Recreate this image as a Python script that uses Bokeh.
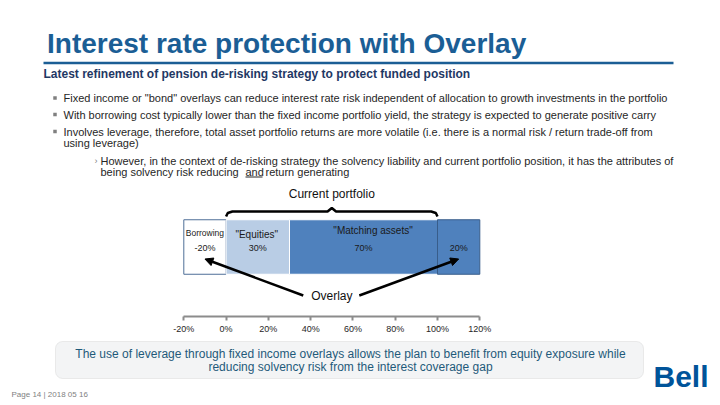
from bokeh.plotting import figure
from bokeh.layouts import column
from bokeh.models import Range1d, LinearAxis, FixedTicker, Arrow, NormalHead, BoxAnnotation
from bokeh.core.properties import value
from bokeh.embed import file_html
from bokeh.resources import INLINE

# ---------------- data ----------------
title = "Interest rate protection with Overlay"
subtitle = "Latest refinement of pension de-risking strategy to protect funded position"
bullets = [
    "Fixed income or \"bond\" overlays can reduce interest rate risk independent of allocation to growth investments in the portfolio",
    "With borrowing cost typically lower than the fixed income portfolio yield, the strategy is expected to generate positive carry",
    "Involves leverage, therefore, total asset portfolio returns are more volatile (i.e. there is a normal risk / return trade-off from",
]
bullet3_cont = "using leverage)"
sub_bullet = "However, in the context of de-risking strategy the solvency liability and current portfolio position, it has the attributes of"
sub_bullet_cont = ["being solvency risk reducing", "and", "return generating"]

segments = ["Borrowing", "Equities", "Matching assets", "Overlay"]
seg_labels = ["Borrowing", "\"Equities\"", "\"Matching assets\"", ""]
seg_values = [-20, 30, 70, 20]
seg_fill = ["#ffffff", "#b9cde5", "#4f81bd", "#4f81bd"]
seg_line = ["#4f6f98", "#ffffff", "#ffffff", "#385d8a"]

tick_values = [-20, 0, 20, 40, 60, 80, 100, 120]
tick_labels = ["-20%", "0%", "20%", "40%", "60%", "80%", "100%", "120%"]

bracket_label = "Current portfolio"
overlay_label = "Overlay"
callout = [
    "The use of leverage through fixed income overlays allows the plan to benefit from equity exposure while",
    "reducing solvency risk from the interest coverage gap",
]
footer = "Page 14  |  2018 05 16"
logo = "Bell"

# ---------------- derived stacking ----------------
lefts, rights = [], []
pos = 0
for v in seg_values:
    if v < 0:
        lefts.append(v); rights.append(0)
    else:
        lefts.append(pos); rights.append(pos + v); pos += v
centers = [(a + b) / 2 for a, b in zip(lefts, rights)]
val_labels = [f"{v}%" for v in seg_values]

FONT = value("Liberation Sans")
BLUE = "#1b5e95"
W = 712

# percent scale placed on slide: -20% at x=183.3, 120% at x=479.3 (slide px)
px_lo, px_hi = 183.3, 479.3
scale = (px_hi - px_lo) / (tick_values[-1] - tick_values[0])
pct_start = tick_values[0] - px_lo / scale
pct_end = pct_start + W / scale

# ---------------- top figure (slide px coords, y downward) ----------------
p = figure(frame_width=W, frame_height=316, x_range=Range1d(0, W), y_range=Range1d(316, 0),
           x_axis_type=None, y_axis_type=None, toolbar_location=None, output_backend="svg",
           min_border_left=0, min_border_right=0, min_border_top=0, min_border_bottom=22,
           title=None, outline_line_color=None, background_fill_color="white", border_fill_color="white")
p.extra_x_ranges = {"pct": Range1d(pct_start, pct_end)}

# title, rule, subtitle
p.text(x=[46.5], y=[43], text=[title], text_font=FONT, text_font_style="bold", text_font_size="28px",
       text_color=BLUE, text_baseline="alphabetic", text_align="left")
p.segment(x0=[43], y0=[62.5], x1=[673], y1=[62.5], line_color=BLUE, line_width=2.5)
p.text(x=[43], y=[73.5], text=[subtitle], text_font=FONT, text_font_style="bold", text_font_size="12px",
       text_color="#1f3864", text_baseline="middle", text_align="left")

# bullets
by = [97.5, 114, 131]
p.rect(x=[54.5] * 3, y=by, width=3.5, height=3.5, fill_color="#808080", line_color=None)
p.text(x=[63] * 3, y=by, text=bullets, text_font=FONT, text_font_size="11px", text_color="#262626",
       text_baseline="middle", text_align="left")
p.text(x=[63], y=[142], text=[bullet3_cont], text_font=FONT, text_font_size="11px", text_color="#262626",
       text_baseline="middle", text_align="left")
p.text(x=[94], y=[160], text=["\u203a"], text_font=FONT, text_font_size="9px", text_color="#808080",
       text_baseline="middle", text_align="left")
p.text(x=[100], y=[160], text=[sub_bullet], text_font=FONT, text_font_size="11px", text_color="#262626",
       text_baseline="middle", text_align="left")
p.text(x=[100, 245, 265], y=[171] * 3, text=sub_bullet_cont, text_font=FONT, text_font_size="11px",
       text_color="#262626", text_baseline="middle", text_align="left")
p.segment(x0=[245], y0=[176.5], x1=[262], y1=[176.5], line_color="#262626", line_width=1)

# bracket over current portfolio (Equities start .. Matching end)
b0, b1 = lefts[1], rights[2]
bm = (b0 + b1) / 2
p.line(x=[b0, b0 + 0.8, b0 + 3, bm - 2, bm, bm + 2, b1 - 3, b1 - 0.8, b1],
       y=[216, 212.5, 211, 211, 207.5, 211, 211, 212.5, 216],
       x_range_name="pct", line_color="black", line_width=2.5)
p.text(x=[bm], y=[193], text=[bracket_label], text_font=FONT, text_font_size="12px", text_color="#111111",
       text_baseline="middle", text_align="center", x_range_name="pct")

# bars
p.hbar(y=[246.5] * 4, height=54.5, left=lefts, right=rights, fill_color=seg_fill, line_color=seg_line,
       line_width=1, x_range_name="pct")
name_y = [232, 233.5, 230, 232]
name_dx = [0, -0.5, 4.5, 0]
name_size = ["8.5px", "10px", "10px", "10px"]
for i in range(4):
    if seg_labels[i]:
        p.text(x=[centers[i] + name_dx[i]], y=[name_y[i]], text=[seg_labels[i]], text_font=FONT,
               text_font_size=name_size[i], text_color="#1a1a1a", text_baseline="middle",
               text_align="center", x_range_name="pct")
p.text(x=centers, y=[247] * 4, text=val_labels, text_font=FONT, text_font_size="9px",
       text_color="#1a1a1a", text_baseline="middle", text_align="center", x_range_name="pct")

# overlay arrows
p.text(x=[bm], y=[295], text=[overlay_label], text_font=FONT, text_font_size="12px", text_color="#111111",
       text_baseline="middle", text_align="center", x_range_name="pct")
for tgt, tail in [(centers[0], bm - 13.5), (centers[3], bm + 13)]:
    p.add_layout(Arrow(end=NormalHead(size=8, fill_color="black", line_color="black"),
                       x_start=tail, y_start=295, x_end=tgt, y_end=258.5,
                       line_color="black", line_width=2.5, x_range_name="pct"))

# percent axis
ax = LinearAxis(x_range_name="pct", ticker=FixedTicker(ticks=tick_values),
                major_label_overrides={t: l for t, l in zip(tick_values, tick_labels)})
ax.bounds = (tick_values[0], tick_values[-1])
ax.axis_line_color = "#8c8c8c"
ax.axis_line_width = 2
ax.major_tick_line_color = "#8c8c8c"
ax.major_tick_line_width = 2
ax.major_tick_in = 0
ax.major_tick_out = 4
ax.minor_tick_line_color = None
ax.major_label_text_font = "Liberation Sans"
ax.major_label_text_font_size = "9px"
ax.major_label_text_color = "#262626"
ax.major_label_standoff = 3
p.add_layout(ax, "below")

# ---------------- bottom figure ----------------
q = figure(width=W, height=62, x_range=Range1d(0, W), y_range=Range1d(400, 338),
           x_axis_type=None, y_axis_type=None, toolbar_location=None, output_backend="svg",
           min_border=0, title=None, outline_line_color=None,
           background_fill_color="white", border_fill_color="white")
q.add_layout(BoxAnnotation(left=55, right=643, top=341, bottom=378, border_radius=7, level="underlay",
                           fill_color="#f3f4f5", fill_alpha=1, line_color="#c4c4c4", line_width=1))
q.text(x=[350, 350], y=[353, 366.5], text=callout, text_font=FONT, text_font_size="12px",
       text_color="#1f5a7a", text_baseline="middle", text_align="center")
q.text(x=[11], y=[394], text=[footer], text_font=FONT, text_font_size="8px", text_color="#7f7f7f",
       text_baseline="middle", text_align="left")
q.text(x=[653], y=[376], text=[logo], text_font=FONT, text_font_style="bold", text_font_size="30px",
       text_color="#00549a", text_baseline="middle", text_align="left")

layout = column(p, q, spacing=0)
open("out.html", "w").write(file_html(layout, INLINE))
